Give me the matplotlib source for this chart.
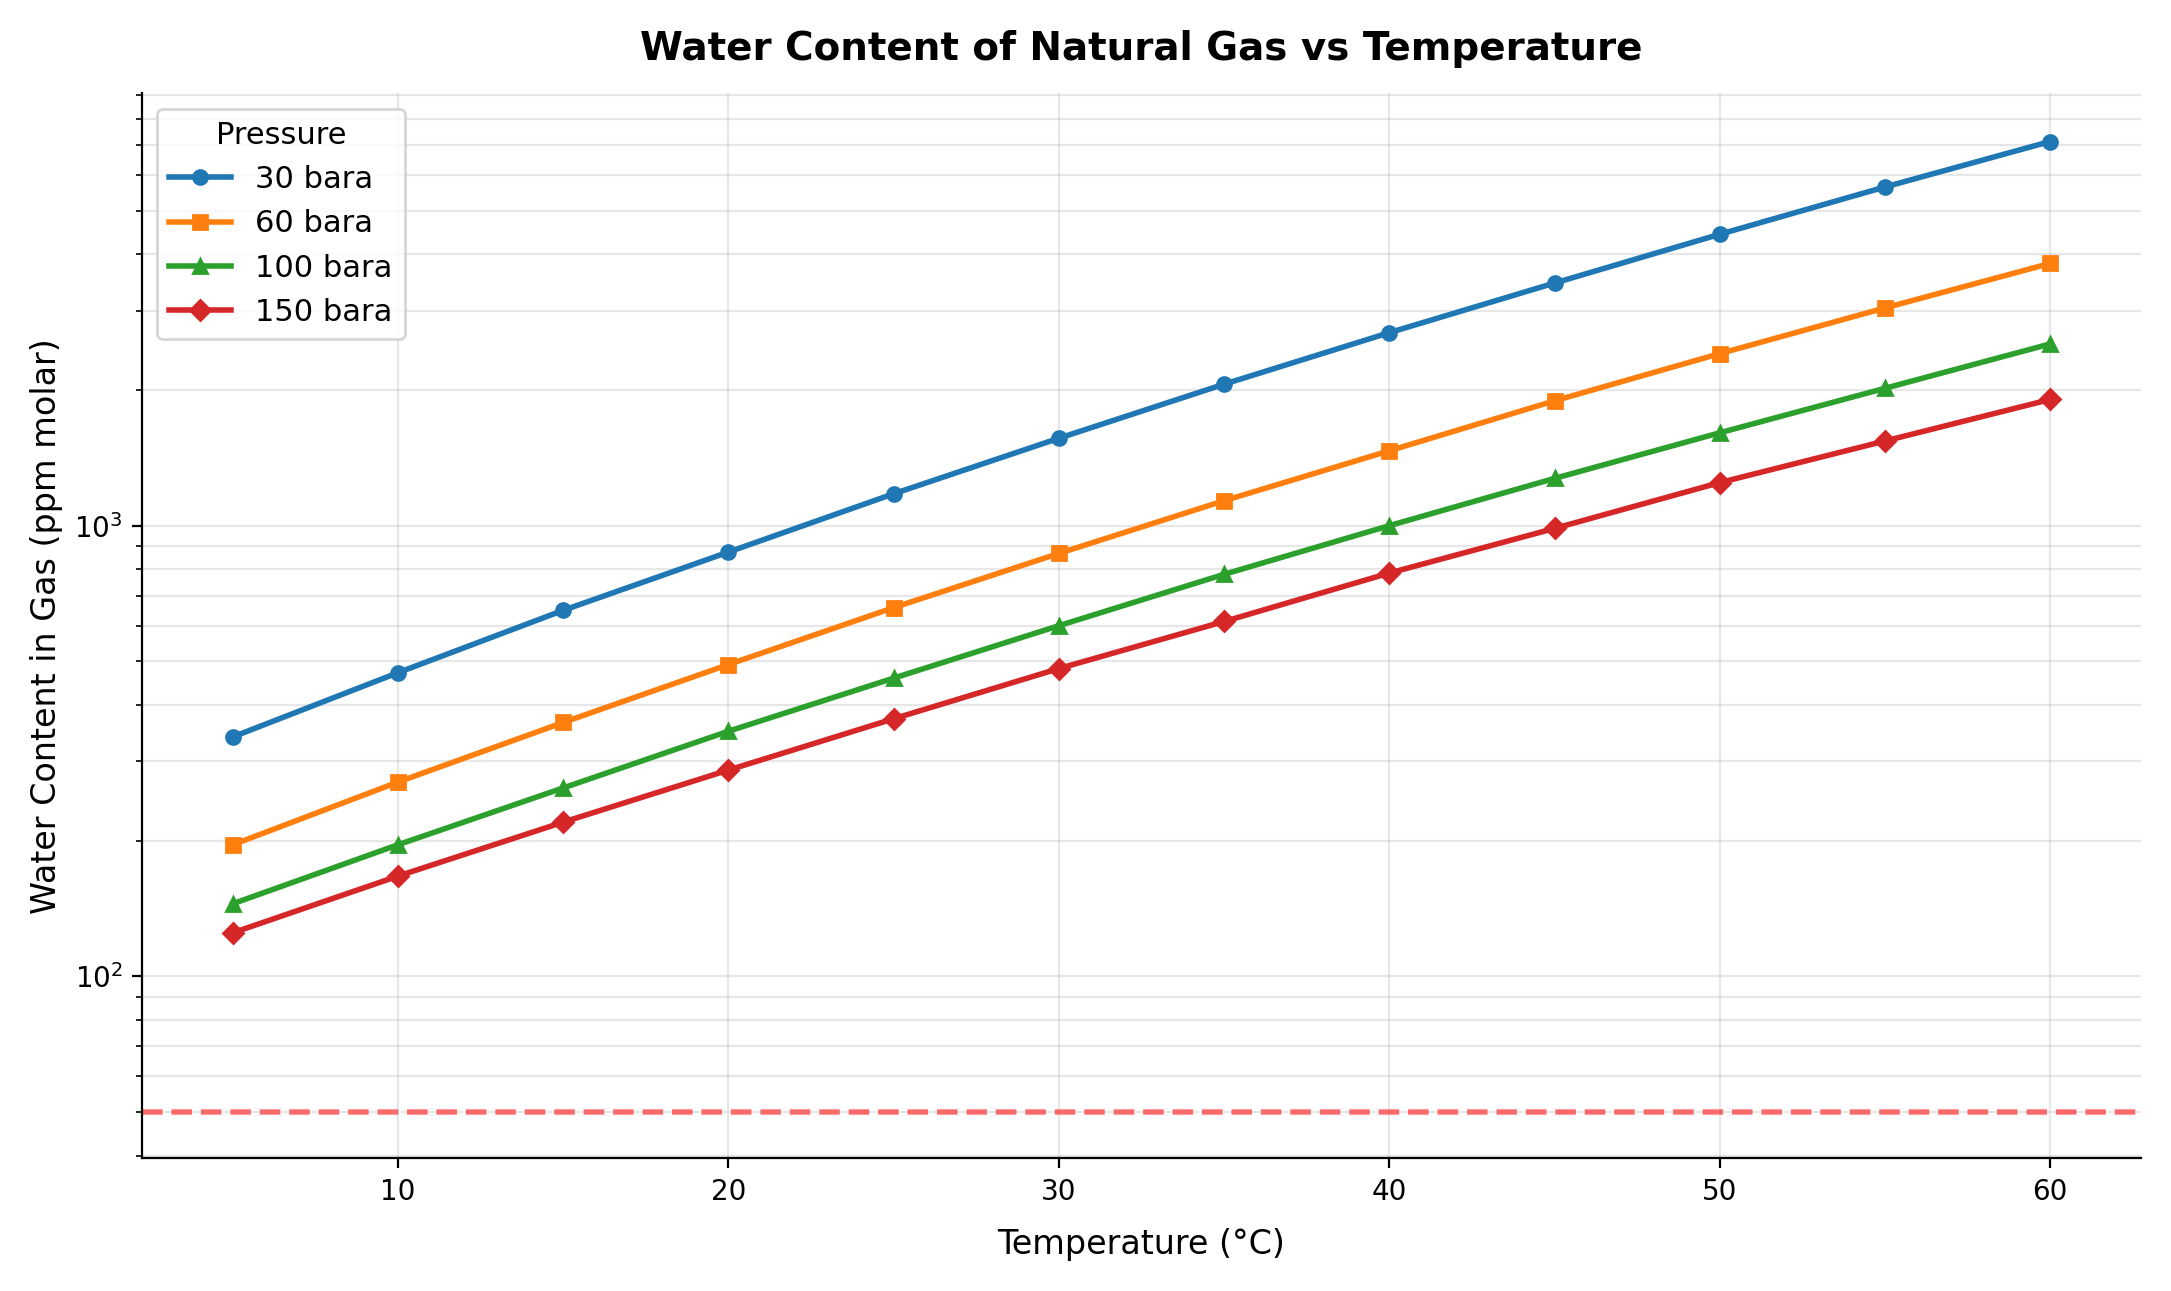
import matplotlib.pyplot as plt

temps = [5, 10, 15, 20, 25, 30, 35, 40, 45, 50, 55, 60]
water_30 = [340, 472, 649, 874, 1177, 1563, 2060, 2680, 3453, 4430, 5640, 7115]
water_60 = [196, 270, 366, 492, 658, 868, 1136, 1466, 1892, 2408, 3041, 3817]
water_100 = [145, 196, 262, 350, 459, 600, 780, 1000, 1273, 1607, 2017, 2530]
water_150 = [125, 167, 220, 287, 373, 482, 613, 785, 986, 1246, 1541, 1905]
spec_limit = 50

fig, ax = plt.subplots(figsize=(10.855, 6.455), dpi=200)

ax.plot(temps, water_30, marker='o', color='#1f77b4', lw=2, ms=5, label='30 bara')
ax.plot(temps, water_60, marker='s', color='#ff7f0e', lw=2, ms=5, label='60 bara')
ax.plot(temps, water_100, marker='^', color='#2ca02c', lw=2, ms=5, label='100 bara')
ax.plot(temps, water_150, marker='D', color='#d62728', lw=2, ms=5, label='150 bara')
ax.axhline(spec_limit, color='red', ls='--', lw=2, alpha=0.55)

ax.set_yscale('log')
ax.set_ylim(39.5, 9100)
ax.grid(True, which='major', alpha=0.3)
ax.grid(True, which='minor', axis='y', alpha=0.3)
ax.spines['top'].set_visible(False)
ax.spines['right'].set_visible(False)

ax.set_title('Water Content of Natural Gas vs Temperature', fontsize=14, fontweight='bold', pad=12)
ax.set_xlabel('Temperature (°C)', fontsize=12, labelpad=8)
ax.set_ylabel('Water Content in Gas (ppm molar)', fontsize=12)
ax.legend(title='Pressure', loc='upper left', fontsize=11, title_fontsize=11)

plt.tight_layout()
plt.savefig('out.png', dpi=200)
